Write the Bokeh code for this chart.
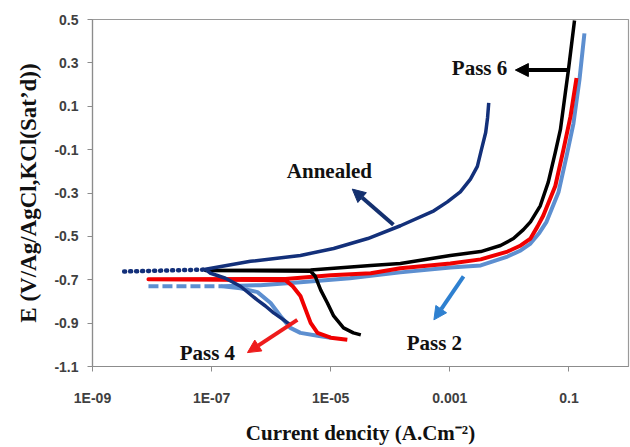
from bokeh.plotting import figure
from bokeh.models import (Range1d, FixedTicker, CustomJSTickFormatter, PrintfTickFormatter,
                          Arrow, NormalHead, Label)
from bokeh.embed import file_html
from bokeh.resources import INLINE

# ---------------- data ----------------
x_ticks = [1e-9, 1e-7, 1e-5, 1e-3, 1e-1]
x_tick_labels = ["1E-09", "1E-07", "1E-05", "0.001", "0.1"]
y_ticks = [-1.1, -0.9, -0.7, -0.5, -0.3, -0.1, 0.1, 0.3, 0.5]

annealed_dot_i = [3.4e-9, 7.9e-8]
annealed_dot_e = [-0.662, -0.653]
annealed_i = [2.1e-6, 1.62e-6, 1.1e-6, 8.0e-7, 5.9e-7, 3.05e-7, 1.71e-7, 9.6e-8, 7.9e-8,
              4.5e-7, 3.1e-6, 1.12e-5, 4.2e-5, 1.48e-4, 5.4e-4, 9.1e-4, 1.5e-3, 2.22e-3,
              2.9e-3, 3.4e-3, 4.0e-3, 4.3e-3, 4.5e-3]
annealed_e = [-0.908, -0.885, -0.853, -0.821, -0.794, -0.730, -0.693, -0.670, -0.652,
              -0.615, -0.588, -0.556, -0.510, -0.451, -0.382, -0.341, -0.295, -0.236,
              -0.177, -0.099, -0.021, 0.047, 0.116]

pass2_dash_i = [8.7e-9, 1.52e-7]
pass2_dash_e = [-0.730, -0.730]
pass2_i = [1.0e-5, 6.0e-6, 3.1e-6, 2.1e-6, 1.43e-6, 9.8e-7, 5.9e-7, 3.05e-7, 1.52e-7, 6.6e-7,
           3.1e-6, 2.1e-5, 1.48e-4, 1.02e-3, 3.3e-3, 9.3e-3, 1.55e-2, 2.26e-2, 3.2e-2,
           4.2e-2, 6.7e-2, 9.1e-2, 0.119, 0.150, 0.182]
pass2_e = [-0.967, -0.958, -0.945, -0.922, -0.867, -0.807, -0.757, -0.739, -0.730, -0.725,
           -0.711, -0.693, -0.666, -0.643, -0.634, -0.593, -0.565, -0.533, -0.483,
           -0.433, -0.295, -0.131, 0.020, 0.221, 0.436]

pass4_i = [1.9e-5, 1.0e-5, 6.0e-6, 4.6e-6, 3.8e-6, 3.1e-6, 2.3e-6, 1.74e-6, 8.7e-9,
           1.74e-6, 1.0e-5, 4.7e-5, 1.48e-4, 1.02e-3, 3.3e-3, 9.3e-3, 1.55e-2, 2.26e-2,
           2.96e-2, 3.7e-2, 5.9e-2, 8.1e-2, 0.106, 0.134]
pass4_e = [-0.977, -0.967, -0.945, -0.899, -0.839, -0.775, -0.730, -0.702, -0.698,
           -0.696, -0.679, -0.670, -0.647, -0.625, -0.606, -0.570, -0.542, -0.510,
           -0.455, -0.405, -0.268, -0.099, 0.052, 0.230]

pass6_i = [3.2e-5, 2.4e-5, 1.64e-5, 1.12e-5, 8.8e-6, 6.8e-6, 5.5e-6, 4.6e-6, 7.9e-8,
           4.6e-6, 4.7e-5, 1.48e-4, 1.02e-3, 3.3e-3, 7.1e-3, 1.17e-2, 1.72e-2, 2.26e-2,
           3.3e-2, 4.5e-2, 5.9e-2, 7.2e-2, 8.7e-2, 9.8e-2, 0.124]
pass6_e = [-0.954, -0.945, -0.922, -0.867, -0.807, -0.748, -0.684, -0.661, -0.657,
           -0.655, -0.634, -0.625, -0.588, -0.570, -0.542, -0.510, -0.469, -0.433,
           -0.359, -0.250, -0.113, -0.007, 0.162, 0.267, 0.495]

# annotations
annot_names = ["Annealed", "Pass 6", "Pass 2", "Pass 4"]
annot_text_i = [9.5e-6, 3.15e-3, 5.5e-4, 8.5e-8]
annot_text_e = [-0.199, 0.276, -0.990, -1.036]
arrow_from_i = [1.13e-4, 9.5e-2, 1.7e-3, 2.75e-6]
arrow_from_e = [-0.446, 0.267, -0.684, -0.885]
arrow_to_i = [2.3e-5, 1.26e-2, 5.4e-4, 4.0e-7]
arrow_to_e = [-0.282, 0.267, -0.885, -1.036]
arrow_colors = ["#14306F", "#000000", "#2E80D0", "#EE1C1C"]

NAVY = "#13307A"
BLACK = "#000000"
RED = "#F00000"
LBLUE = "#5D8FD0"

# ---------------- figure ----------------
p = figure(width=630, height=447, x_axis_type="log", output_backend="svg",
           toolbar_location=None, x_range=Range1d(1e-9, 1), y_range=Range1d(-1.1, 0.5),
           min_border_left=92, min_border_right=2, min_border_top=19, min_border_bottom=78)
p.grid.visible = False
p.outline_line_color = "#9A9A9A"
p.outline_line_width = 1.2
p.background_fill_color = "white"
p.border_fill_color = "white"

# curves
p.line(pass2_dash_i, pass2_dash_e, line_color=LBLUE, line_width=4, line_dash="10 4")
p.line(pass2_i, pass2_e, line_color=LBLUE, line_width=4, line_join="round")
p.line(pass4_i, pass4_e, line_color=RED, line_width=4, line_join="round")
p.line(pass6_i, pass6_e, line_color=BLACK, line_width=3.5, line_join="round")
p.line(annealed_dot_i, annealed_dot_e, line_color=NAVY, line_width=4.5, line_dash="1 5",
       line_cap="round")
p.line(annealed_i, annealed_e, line_color=NAVY, line_width=3.5, line_join="round")

# arrows and labels
for k in range(len(annot_names)):
    p.add_layout(Arrow(end=NormalHead(size=13, fill_color=arrow_colors[k],
                                      line_color=arrow_colors[k]),
                       x_start=arrow_from_i[k], y_start=arrow_from_e[k],
                       x_end=arrow_to_i[k], y_end=arrow_to_e[k],
                       line_color=arrow_colors[k], line_width=4))
    p.add_layout(Label(x=annot_text_i[k], y=annot_text_e[k], text=annot_names[k],
                       text_align="center", text_baseline="middle",
                       text_font="Liberation Serif", text_font_style="bold",
                       text_font_size="21px", text_color="#111111"))

# axes
p.xaxis.ticker = FixedTicker(ticks=x_ticks)
p.xaxis.formatter = CustomJSTickFormatter(args=dict(tvals=x_ticks, tlabels=x_tick_labels), code="""
for (let i = 0; i < tvals.length; i++) {
  if (Math.abs(Math.log10(tick) - Math.log10(tvals[i])) < 1e-6) return tlabels[i];
}
return "";
""")
p.yaxis.ticker = FixedTicker(ticks=y_ticks)
p.yaxis.formatter = PrintfTickFormatter(format="%.1f")

for ax in (p.xaxis, p.yaxis):
    ax.axis_line_color = "#8C8C8C"
    ax.axis_line_width = 1.2
    ax.major_tick_line_color = "#8C8C8C"
    ax.major_tick_out = 5
    ax.major_tick_in = 0
    ax.minor_tick_line_color = None
    ax.major_label_text_font = "Liberation Sans"
    ax.major_label_text_font_style = "bold"
    ax.major_label_text_font_size = "14px"
    ax.major_label_text_color = "#404040"
    ax.axis_label_text_font = "Liberation Serif"
    ax.axis_label_text_font_style = "bold"
    ax.axis_label_text_color = "#111111"

p.xaxis.axis_label = "Current dencity (A.Cm\u207b\u00b2)"
p.xaxis.axis_label_text_font_size = "21px"
p.xaxis.major_label_standoff = 18
p.xaxis.axis_label_standoff = 12

p.yaxis.axis_label = "E (V/Ag/AgCl,KCl(Sat\u2019d))"
p.yaxis.axis_label_text_font_size = "23px"
p.yaxis.major_label_standoff = 9
p.yaxis.axis_label_standoff = 10

open("out.html", "w").write(file_html(p, INLINE))
